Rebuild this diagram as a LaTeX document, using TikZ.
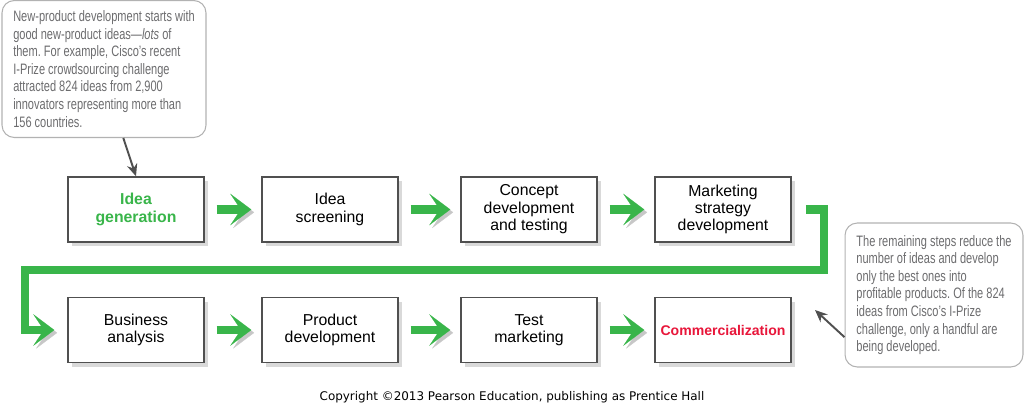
\documentclass[tikz,border=0pt]{standalone}
\usepackage{fontspec}
\setmainfont{Liberation Sans}
\newfontfamily\notefont[FakeStretch=0.73]{Liberation Sans}
\newfontfamily\copyfont{DejaVu Sans}
\usetikzlibrary{arrows.meta,shadows}
\definecolor{stepgreen}{RGB}{57,181,74}
\definecolor{stepred}{RGB}{232,22,58}
\definecolor{notegray}{RGB}{108,108,110}
\definecolor{edgegray}{RGB}{80,80,80}
\frenchspacing

\begin{document}
\begin{tikzpicture}[x=0.02cm,y=-0.02cm]
    \tikzstyle{stepbox} = [draw=edgegray, line width=0.8pt, fill=white, minimum width=2.72cm, minimum height=1.3cm, inner sep=0, align=center, font=\fontsize{9}{9.9}\selectfont, drop shadow={shadow xshift=2.5pt, shadow yshift=-2.5pt, opacity=0.3}];
    \tikzstyle{note} = [draw=black!30, line width=0.6pt, rounded corners=7pt, inner sep=0, align=left, text=notegray, font=\notefont\fontsize{8.6}{10}\selectfont];
    \tikzstyle{flowarrow} = [draw=stepgreen, line width=5pt, -{Stealth[length=12pt,width=18pt,inset=6pt,line width=0.1pt]}, preaction={draw=black!22, transform canvas={shift={(1.6pt,-1.6pt)}}}];
    \tikzstyle{callarrow} = [draw=edgegray, line width=1.1pt, -{Stealth[length=7pt,width=6pt]}];
    \useasboundingbox (0,0) rectangle (1024,412);
    % notes
    \node[note, minimum width=4.08cm, minimum height=2.74cm] (ideanote) at (104,69) {New-product development starts with\\good new-product ideas—\textit{lots} of\\them. For example, Cisco’s recent\\I-Prize crowdsourcing challenge\\attracted 824 ideas from 2,900\\innovators representing more than\\156 countries.};
    \node[note, minimum width=3.56cm, minimum height=2.88cm] (restnote) at (934,295) {The remaining steps reduce the\\number of ideas and develop\\only the best ones into\\profitable products. Of the 824\\ideas from Cisco’s I-Prize\\challenge, only a handful are\\being developed.};
    % steps
    \node[stepbox, text=stepgreen, font=\bfseries\fontsize{9}{9.9}\selectfont] (idea) at (136,209.5) {Idea\\generation};
    \node[stepbox] (screen) at (330,209.5) {Idea\\screening};
    \node[stepbox] (concept) at (529,209.5) {Concept\\development\\and testing};
    \node[stepbox] (mkt) at (723,209.5) {Marketing\\strategy\\development};
    \node[stepbox] (bus) at (136,330) {Business\\analysis};
    \node[stepbox] (prod) at (330,330) {Product\\development};
    \node[stepbox] (test) at (529,330) {Test\\marketing};
    \node[stepbox, text=stepred, font=\bfseries\fontsize{8}{9.9}\selectfont] (comm) at (723,330) {Commercialization};
    \coordinate (loopR) at (824,270);
    \coordinate (loopL) at (25,270);
    \coordinate (commtip) at (815,310);
    % flow
    \draw[flowarrow, shorten <=6.8pt, shorten >=5.7pt] (idea) -- (screen);
    \draw[flowarrow, shorten <=6.8pt, shorten >=5.7pt] (screen) -- (concept);
    \draw[flowarrow, shorten <=6.8pt, shorten >=5.7pt] (concept) -- (mkt);
    \draw[flowarrow, shorten <=8pt, shorten >=7.4pt] (mkt.east) -| (loopR) -- (loopL) |- (bus.west);
    \draw[flowarrow, shorten <=6.8pt, shorten >=5.7pt] (bus) -- (prod);
    \draw[flowarrow, shorten <=6.8pt, shorten >=5.7pt] (prod) -- (test);
    \draw[flowarrow, shorten <=6.8pt, shorten >=5.7pt] (test) -- (comm);
    \draw[callarrow] ([xshift=11pt]ideanote.south) -- (idea.north);
    \draw[callarrow] ([yshift=-24pt]restnote.west) -- (commtip);
    \node[font=\copyfont\fontsize{6.8}{8}\selectfont] (copy) at (512,397) {Copyright \copyright2013 Pearson Education, publishing as Prentice Hall};
\end{tikzpicture}
\end{document}
